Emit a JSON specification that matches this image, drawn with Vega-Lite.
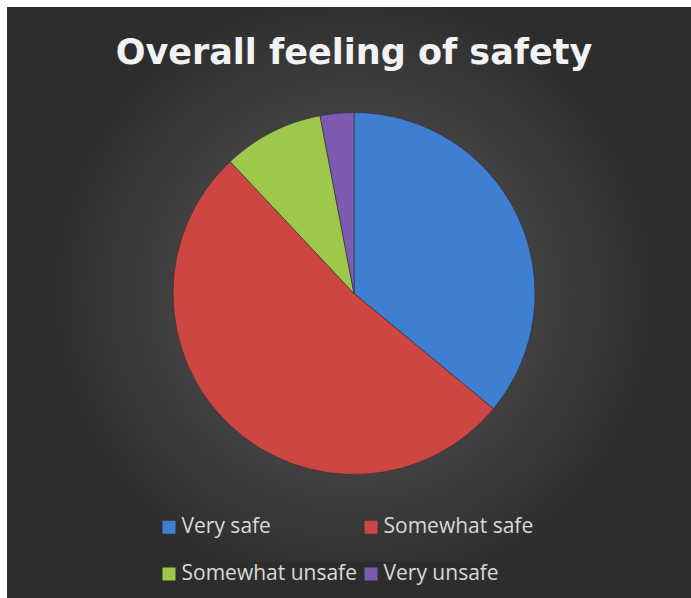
{
  "$schema": "https://vega.github.io/schema/vega-lite/v6.json",
  "width": 691,
  "height": 598,
  "autosize": {"type": "fit", "contains": "padding"},
  "padding": {"left": 25, "top": 7, "right": 8, "bottom": 18},
  "background": "white",
  "view": {
    "fill": {
      "gradient": "radial",
      "x1": 0.5, "y1": 0.5, "r1": 0,
      "x2": 0.5, "y2": 0.5, "r2": 0.47,
      "stops": [
        {"offset": 0, "color": "#4e4e4e"},
        {"offset": 0.6, "color": "#404040"},
        {"offset": 1, "color": "#2d2d2d"}
      ]
    },
    "stroke": "#2d2d2d",
    "strokeWidth": 36,
    "strokeDash": [0, 658, 1804]
  },
  "title": {
    "text": "Overall feeling of safety",
    "anchor": "middle",
    "baseline": "alphabetic",
    "offset": -92,
    "font": "DejaVu Sans",
    "fontSize": 35,
    "fontWeight": "bold",
    "color": "#f2f2f2"
  },
  "data": {
    "values": [
      {"category": "Very safe", "percent": 36, "order": 1},
      {"category": "Somewhat safe", "percent": 52, "order": 2},
      {"category": "Somewhat unsafe", "percent": 9, "order": 3},
      {"category": "Very unsafe", "percent": 3, "order": 4}
    ]
  },
  "mark": {"type": "arc", "outerRadius": 181, "stroke": "#2e2e2e", "strokeWidth": 0.6},
  "encoding": {
    "theta": {"field": "percent", "type": "quantitative", "stack": true},
    "order": {"field": "order", "type": "quantitative"},
    "color": {
      "field": "category",
      "type": "nominal",
      "sort": ["Very safe", "Somewhat safe", "Somewhat unsafe", "Very unsafe"],
      "scale": {
        "domain": ["Very safe", "Somewhat safe", "Somewhat unsafe", "Very unsafe"],
        "range": ["#3f7fd1", "#cd4642", "#9dc84c", "#7d5bb0"]
      },
      "legend": {
        "orient": "none",
        "direction": "horizontal",
        "legendX": 133.5,
        "legendY": 509.5,
        "columns": 2,
        "title": null,
        "symbolType": "square",
        "symbolSize": 169,
        "symbolStrokeWidth": 0,
        "labelFont": "Open Sans",
        "labelFontSize": 21,
        "labelColor": "#d9d9d9",
        "labelOffset": 2,
        "rowPadding": 25,
        "columnPadding": 3,
        "labelLimit": 300
      }
    }
  }
}
